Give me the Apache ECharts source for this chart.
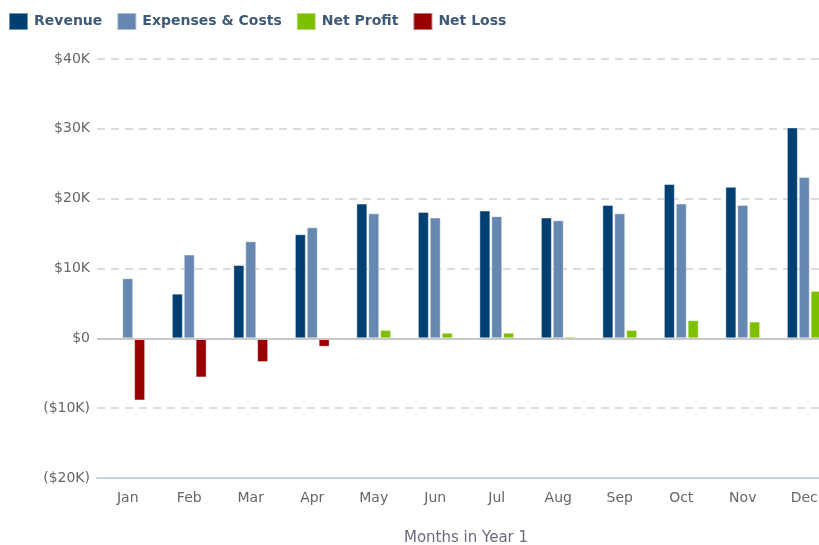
<!DOCTYPE html>
<html>
<head>
<meta charset="utf-8">
<script src="https://cdn.jsdelivr.net/npm/echarts@6/dist/echarts.min.js"></script>
<style>html,body{margin:0;padding:0;background:#fff;}#c{width:819px;height:545px;}</style>
</head>
<body>
<div id="c"></div>
<script>
const months = ['Jan','Feb','Mar','Apr','May','Jun','Jul','Aug','Sep','Oct','Nov','Dec'];
const revenue = [null, 6400, 10500, 14900, 19300, 18100, 18300, 17300, 19100, 22100, 21700, 30200];
const expenses = [8600, 12000, 13900, 15900, 17900, 17300, 17500, 16900, 17900, 19300, 19100, 23100];
const netProfit = [null, null, null, null, 1200, 800, 800, 250, 1200, 2600, 2400, 6800];
const netLoss = [-8900, -5600, -3400, -1200, null, null, null, null, null, null, null, null];
const yTicks = [-20000, -10000, 0, 10000, 20000, 30000, 40000];

function fmt(v) {
  if (v === 0) return '$0';
  if (v > 0) return '$' + (v / 1000) + 'K';
  return '($' + (-v / 1000) + 'K)';
}

const FONT = 'DejaVu Sans';
const chart = echarts.init(document.getElementById('c'));
const barBase = { type: 'bar', barWidth: 11, barGap: '8%', itemStyle: { borderColor: 'rgba(255,255,255,0.45)', borderWidth: 1 } };

chart.setOption({
  animation: false,
  textStyle: { fontFamily: FONT },
  legend: {
    left: 8, top: 12, padding: 0,
    itemWidth: 19, itemHeight: 17, itemGap: 14,
    icon: 'rect',
    textStyle: { fontFamily: FONT, fontSize: 14, fontWeight: 'bold', color: '#3f5a78', padding: [0, 0, 0, 1] },
    data: ['Revenue', 'Expenses & Costs', 'Net Profit', 'Net Loss']
  },
  grid: { left: 97, right: -16, top: 59, bottom: 67, containLabel: false, outerBoundsMode: 'none' },
  xAxis: {
    type: 'category',
    data: months,
    axisLine: { onZero: false, lineStyle: { color: '#c5d4e4', width: 2 } },
    axisTick: { show: false },
    axisLabel: { fontFamily: FONT, fontSize: 14, color: '#666', margin: 13 },
    name: 'Months in Year 1',
    nameLocation: 'middle',
    nameGap: 53,
    nameTextStyle: { fontFamily: FONT, fontSize: 15, color: '#6b6b80' }
  },
  yAxis: {
    type: 'value',
    min: yTicks[0], max: yTicks[yTicks.length - 1], interval: 10000,
    axisLine: { show: false },
    axisTick: { show: false },
    axisLabel: { fontFamily: FONT, fontSize: 14, color: '#666', margin: 7, formatter: fmt },
    splitLine: { lineStyle: { color: '#dddddd', width: 2, type: [8, 6] } }
  },
  series: [
    Object.assign({}, barBase, { name: 'Revenue', data: revenue, itemStyle: Object.assign({}, barBase.itemStyle, { color: '#003f72' }) }),
    Object.assign({}, barBase, { name: 'Expenses & Costs', data: expenses, itemStyle: Object.assign({}, barBase.itemStyle, { color: '#6587b0' }),
      markLine: { silent: true, symbol: 'none', label: { show: false }, lineStyle: { color: '#c8c8c8', width: 2, type: 'solid' }, data: [{ yAxis: 0 }] } }),
    Object.assign({}, barBase, { name: 'Net Profit', stack: 'net', data: netProfit, itemStyle: Object.assign({}, barBase.itemStyle, { color: '#7dc000' }) }),
    Object.assign({}, barBase, { name: 'Net Loss', stack: 'net', data: netLoss, itemStyle: Object.assign({}, barBase.itemStyle, { color: '#990000' }) })
  ]
});
</script>
</body>
</html>
